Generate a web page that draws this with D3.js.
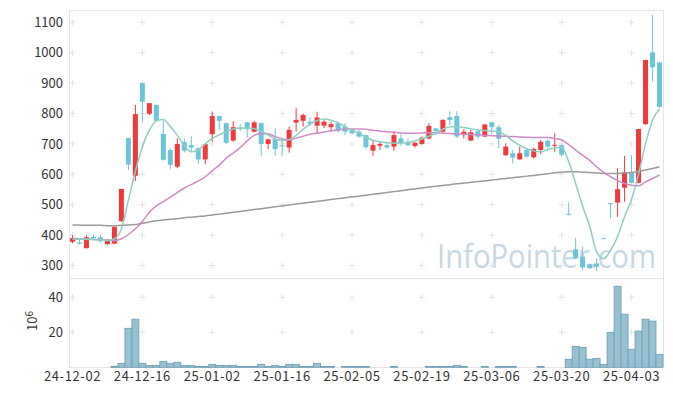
<!DOCTYPE html>
<html><head><meta charset="utf-8">
<script src="https://cdn.jsdelivr.net/npm/d3@7"></script>
<style>body{margin:0;background:#fff}svg{display:block}text{font-family:"Noto Sans CJK KR","Noto Sans",sans-serif}</style>
</head><body><svg id="c" width="673" height="396"></svg>
<script>
const dates=["2024-12-02","2024-12-03","2024-12-04","2024-12-05","2024-12-06","2024-12-09","2024-12-10","2024-12-11","2024-12-12","2024-12-13",
"2024-12-16","2024-12-17","2024-12-18","2024-12-19","2024-12-20","2024-12-23","2024-12-24","2024-12-26","2024-12-27","2024-12-30",
"2025-01-02","2025-01-03","2025-01-06","2025-01-07","2025-01-08","2025-01-09","2025-01-10","2025-01-13","2025-01-14","2025-01-15",
"2025-01-16","2025-01-17","2025-01-20","2025-01-21","2025-01-22","2025-01-23","2025-01-24","2025-01-31","2025-02-03","2025-02-04",
"2025-02-05","2025-02-06","2025-02-07","2025-02-10","2025-02-11","2025-02-12","2025-02-13","2025-02-14","2025-02-17","2025-02-18",
"2025-02-19","2025-02-20","2025-02-21","2025-02-24","2025-02-25","2025-02-26","2025-02-27","2025-02-28","2025-03-04","2025-03-05",
"2025-03-06","2025-03-07","2025-03-10","2025-03-11","2025-03-12","2025-03-13","2025-03-14","2025-03-17","2025-03-18","2025-03-19",
"2025-03-20","2025-03-21","2025-03-24","2025-03-25","2025-03-26","2025-03-27","2025-03-28","2025-03-31","2025-04-01","2025-04-02",
"2025-04-03","2025-04-04","2025-04-07","2025-04-08","2025-04-09"];
const open=[378,376,357,394,393,370,372,446,719,595, 900,799,828,733,680,625,706,696,686,649, 732,792,768,711,753,771,740,768,700,716,
695,688,770,776,773,760,760,755,768,757, 746,740,729,678,694,696,691,718,707,693, 700,718,751,740,788,792,729,711,742,724,
771,755,663,669,649,680,656,680,710,695, 696,470,353,329,304,307,390,505,507,556, 607,572,765,1001,968];
const high=[399,384,399,402,400,387,428,552,720,828, 900,834,830,778,686,718,718,725,688,700, 806,792,770,775,765,771,775,770,717,751,
718,757,817,800,787,806,778,773,773,768, 750,745,730,710,710,706,742,732,718,706, 724,768,752,781,808,808,748,746,750,765,
773,762,702,680,691,682,688,713,715,735, 698,507,391,362,306,324,391,506,620,660, 663,750,977,1124,970];
const low=[373,369,356,382,375,369,371,443,614,578, 771,795,775,645,617,620,672,672,634,633, 707,746,699,707,742,720,738,660,683,661,
660,671,740,757,759,735,752,740,737,729, 730,720,685,661,680,684,678,694,693,688, 698,715,729,738,762,720,718,709,717,722,
732,686,660,636,648,655,652,666,685,674, 658,465,322,285,289,282,388,455,460,510, 570,570,762,905,820];
const close=[390,372,393,390,380,385,427,552,632,798, 839,834,776,648,631,700,678,688,649,699, 792,776,704,755,749,748,771,700,715,683,
693,746,779,795,766,787,773,765,743,740, 735,724,689,696,700,688,729,702,696,704, 720,759,742,779,779,724,740,738,724,764,
755,717,691,655,669,658,683,707,691,697, 664,467,324,294,291,296,389,503,551,607, 572,749,976,952,822];
const volume=[0,0,0,0,0,0,0.5,2.3,22.3,27.5, 2.3,1.1,1.1,3.4,2.3,2.9,1.1,1.1,0.5,0.5, 1.7,1.1,1.1,1.1,0.5,0.5,0.5,1.7,0.5,1.1,
0.5,1.7,1.7,0.5,0.5,2.3,0.5,0.5,0,0.5, 0.5,0.5,0.5,0,0,0,0.5,0,0,0, 0,0.5,0.5,0.5,0.5,1.1,0.5,0,0,0.5,
0,0.5,0.5,0.5,0,0,0,0.5,0,0, 0,4.6,12,11.4,4.6,5.1,1.7,20,46.3,30.3, 10.3,20.7,27.5,26.4,7.4];
const ma5=[387,386,386,385,384,382,388,420,515,610, 690,745,775,780,757,728,695,674,680,700, 718,730,740,749,752,752,750,742,730,716,
711,714,728,748,765,777,782,778,770,757, 745,735,722,712,707,704,702,703,704,710, 716,725,736,748,756,757,754,750,746,744,
742,740,728,710,695,684,677,674,681,687, 688,642,570,495,430,345,322,350,395,460, 518,600,700,778,815];
const ma20=[389,388,387,386,385,383,382,388,402,421, 445,475,496,510,525,540,555,566,578,592, 612,630,653,670,688,710,728,734,733,724,
716,714,719,725,732,735,739,743,746,749, 749,749,748,745,742,740,738,736,735,735, 736,737,736,735,734,733,732,731,730,728,
727,726,725,724,723,722,721,721,721,718, 713,698,680,662,646,625,606,592,579,570, 564,562,575,586,598];
const ma60=[433,433,432,432,432,431,431,432,433,435, 439,443,447,450,452,454,457,459,461,463, 466,469,472,475,478,481,484,487,490,493,
496,499,502,505,508,511,514,517,520,523, 526,528,531,534,537,540,543,546,549,552, 555,558,561,563,566,569,571,574,576,579,
581,584,586,589,591,594,596,599,602,605, 607,608,608,607,606,604,603,603,603,604, 606,609,614,619,624];
const priceTicks=[300,400,500,600,700,800,900,1000,1100];
const volTicks=[20,40];
const dateTicks=["2024-12-02","2024-12-16","2025-01-02","2025-01-16","2025-02-05","2025-02-19","2025-03-06","2025-03-20","2025-04-03"];

const svg=d3.select("#c");
const x=d3.scaleBand().domain(dates).range([69,663]).padding(0);
const cx=d=>x(d)+x.bandwidth()/2;
const y=d3.scaleLinear().domain([300,1100]).range([265.5,22.3]);
const yv=d3.scaleLinear().domain([0,40]).range([367.3,297.3]);
const UP="#ef3a3d", DOWN="#6cc4d9", GRID="#e2e2e2", BORDER="#e4e4e4";

// watermark
svg.append("text").attr("x",437).attr("y",268).attr("textLength",219).attr("lengthAdjust","spacingAndGlyphs")
  .style("font-family","'Open Sans',sans-serif").style("font-size","32px").attr("fill","#c6d8e4").text("InfoPointer.com");

// frames
const fr=svg.append("g").attr("stroke",BORDER).attr("stroke-width",1).attr("fill","none");
fr.append("line").attr("x1",69).attr("x2",663).attr("y1",10.5).attr("y2",10.5);
fr.append("line").attr("x1",69.5).attr("x2",69.5).attr("y1",10).attr("y2",367);
fr.append("line").attr("x1",663.5).attr("x2",663.5).attr("y1",10).attr("y2",367);
fr.append("line").attr("x1",69).attr("x2",663).attr("y1",278.5).attr("y2",278.5);
fr.append("line").attr("x1",69).attr("x2",663).attr("y1",367.5).attr("y2",367.5);

// grid crosses
const gc=svg.append("g").attr("stroke",GRID).attr("stroke-width",1);
dateTicks.forEach(d=>{
  priceTicks.forEach(v=>gc.append("path").attr("d",`M${cx(d)-3},${y(v)}H${cx(d)+3}M${cx(d)},${y(v)-3}V${y(v)+3}`));
  volTicks.forEach(v=>gc.append("path").attr("d",`M${cx(d)-3},${yv(v)}H${cx(d)+3}M${cx(d)},${yv(v)-3}V${yv(v)+3}`));
});

// volume bars
svg.append("g").selectAll("rect").data(dates).join("rect")
  .attr("x",d=>x(d)).attr("width",x.bandwidth())
  .attr("y",(d,i)=>yv(volume[i])).attr("height",(d,i)=>yv(0)-yv(volume[i]))
  .attr("fill","#97c0d0").attr("stroke","#6b9db6").attr("stroke-width",0.8)
  .attr("display",(d,i)=>volume[i]>0?null:"none");

// candles
const cg=svg.append("g");
dates.forEach((d,i)=>{
  const col=close[i]>=open[i]?UP:DOWN;
  cg.append("line").attr("x1",cx(d)).attr("x2",cx(d)).attr("y1",y(high[i])).attr("y2",y(low[i])).attr("stroke",col).attr("stroke-width",1);
  const t=Math.min(y(open[i]),y(close[i])), h=Math.max(1,Math.abs(y(open[i])-y(close[i])));
  cg.append("rect").attr("x",cx(d)-2.5).attr("width",5).attr("y",t).attr("height",h).attr("fill",col);
});

// moving averages
const line=arr=>d3.line().x((d,i)=>cx(dates[i])).y(d=>y(d)).curve(d3.curveMonotoneX)(arr);
svg.append("path").attr("d",line(ma60)).attr("fill","none").attr("stroke","#9a9a9a").attr("stroke-width",1.5);
svg.append("path").attr("d",line(ma20)).attr("fill","none").attr("stroke","#cf8ac6").attr("stroke-width",1.5);
svg.append("path").attr("d",line(ma5)).attr("fill","none").attr("stroke","#8fcfc0").attr("stroke-width",1.5);

// axes
const styleAxis=g=>{g.select(".domain").remove();g.selectAll("text").attr("fill","#333").style("font-size","13px");};
svg.append("g").attr("transform","translate(69,0)")
  .call(d3.axisLeft(y).tickValues(priceTicks).tickSize(0).tickPadding(6).tickFormat(d3.format("d"))).call(styleAxis);
svg.append("g").attr("transform","translate(69,0)")
  .call(d3.axisLeft(yv).tickValues(volTicks).tickSize(0).tickPadding(6).tickFormat(d3.format("d"))).call(styleAxis);
svg.append("g").attr("transform","translate(0,367)")
  .call(d3.axisBottom(x).tickValues(dateTicks).tickSize(0).tickPadding(5).tickFormat(d=>d.slice(2))).call(styleAxis)
  .selectAll("text").style("letter-spacing","0.6px");

// unit label
const ul=svg.append("text").attr("transform","translate(37,321) rotate(-90)").attr("text-anchor","middle")
  .attr("fill","#333").style("font-size","13px");
ul.append("tspan").text("10");
ul.append("tspan").attr("dy",-4).style("font-size","10px").text("6");
</script></body></html>
